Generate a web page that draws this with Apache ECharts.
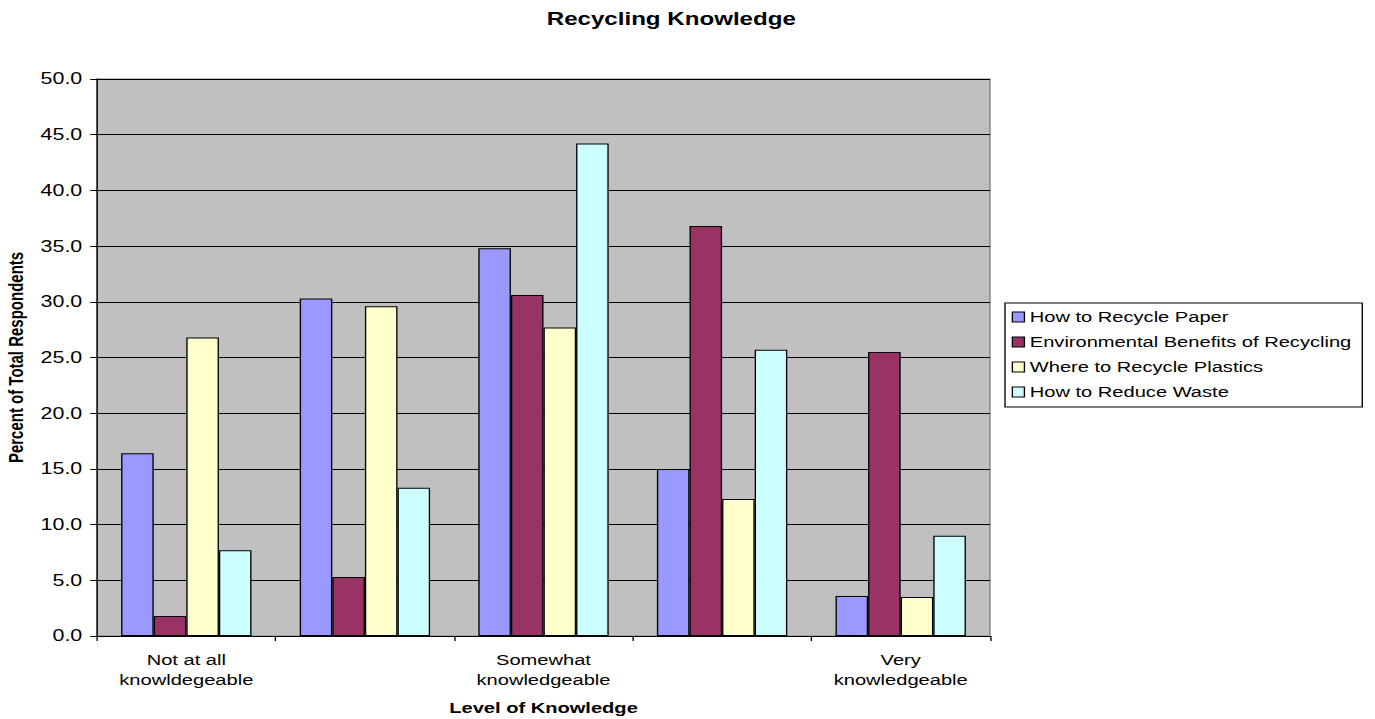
<!DOCTYPE html>
<html>
<head>
<meta charset="utf-8">
<title>Recycling Knowledge</title>
<script src="https://cdn.jsdelivr.net/npm/echarts@6/dist/echarts.min.js"></script>
<style>
  html, body { margin: 0; padding: 0; background: #fff; overflow: hidden; }
  #wrap { width: 1375px; height: 719px; overflow: hidden; }
  /* the chart is laid out narrow and widened, which gives the broad lettering */
  #chart { height: 719px; transform-origin: 0 0; }
</style>
</head>
<body>
<div id="wrap"><div id="chart"></div></div>
<script>
// Share of respondents (%) at each level of knowledge, per topic
const levels = ['Not at all\nknowldegeable', '', 'Somewhat\nknowledgeable', '', 'Very\nknowledgeable'];
const seriesNames = ['How to Recycle Paper', 'Environmental Benefits of Recycling', 'Where to Recycle Plastics', 'How to Reduce Waste'];
const recyclePaper   = [16.4, 30.3, 34.8, 15.0, 3.6];
const envBenefits    = [1.8, 5.3, 30.6, 36.8, 25.5];
const recyclePlastic = [26.8, 29.6, 27.7, 12.3, 3.5];
const reduceWaste    = [7.7, 13.3, 44.2, 25.7, 9.0];
const yTicks = [0, 5, 10, 15, 20, 25, 30, 35, 40, 45, 50];

const STRETCH = 1.34;
const W = 1375 / STRETCH;
const el = document.getElementById('chart');
el.style.width = W + 'px';
el.style.transform = 'scaleX(' + STRETCH + ')';

const font = '"Liberation Sans", Arial, Helvetica, sans-serif';
const colors = ['#9999FF', '#993366', '#FFFFCC', '#CCFFFF'];
const values = [recyclePaper, envBenefits, recyclePlastic, reduceWaste];

const chart = echarts.init(el, null, { renderer: 'svg', width: W, height: 719 });
chart.setOption({
  animation: false,
  color: colors,
  textStyle: { fontFamily: font },
  title: {
    text: 'Recycling Knowledge',
    left: 408,
    top: 10,
    padding: 0,
    textStyle: { fontFamily: font, fontSize: 18, fontWeight: 'bold', color: '#000' }
  },
  legend: {
    orient: 'vertical',
    left: 750,
    top: 303,
    width: 270,
    padding: [6, 8, 7, 5],
    itemGap: 9,
    itemWidth: 9,
    itemHeight: 10,
    borderColor: '#000',
    borderWidth: 1,
    backgroundColor: '#fff',
    icon: 'rect',
    itemStyle: { borderColor: '#000', borderWidth: 1 },
    textStyle: { fontFamily: font, fontSize: 15, color: '#000', lineHeight: 16, padding: [0, 0, 0, -1] },
    data: seriesNames
  },
  grid: {
    left: 72.4,
    right: W - 738.8,
    top: 79,
    bottom: 83,
    containLabel: false,
    outerBoundsMode: 'none',
    show: true,
    backgroundColor: '#C0C0C0',
    borderColor: '#808080',
    borderWidth: 1
  },
  xAxis: {
    type: 'category',
    data: levels,
    name: 'Level of Knowledge',
    nameLocation: 'middle',
    nameGap: 64,
    nameTextStyle: { fontFamily: font, fontSize: 15, fontWeight: 'bold', color: '#000' },
    axisLine: { lineStyle: { color: '#000', width: 1 } },
    axisTick: { show: true, interval: 0, length: 5, lineStyle: { color: '#000' } },
    axisLabel: { interval: 0, margin: 14, fontFamily: font, fontSize: 15, lineHeight: 20, color: '#000' },
    splitLine: { show: false }
  },
  yAxis: {
    type: 'value',
    min: yTicks[0],
    max: yTicks[yTicks.length - 1],
    interval: yTicks[1] - yTicks[0],
    name: 'Percent of Total Respondents',
    nameLocation: 'middle',
    nameGap: 50,
    nameRotate: 90,
    nameTextStyle: { fontFamily: font, fontSize: 15, fontWeight: 'bold', color: '#000' },
    axisLine: { show: true, lineStyle: { color: '#000', width: 1 } },
    axisTick: { show: true, length: 5, lineStyle: { color: '#000' } },
    axisLabel: { margin: 11, fontFamily: font, fontSize: 16, color: '#000', formatter: v => v.toFixed(1) },
    splitLine: { show: true, lineStyle: { color: '#000', width: 1 } }
  },
  series: seriesNames.map((name, i) => ({
    name: name,
    type: 'bar',
    data: values[i],
    barGap: '0%',
    barCategoryGap: '27%',
    itemStyle: { color: colors[i], borderColor: '#000', borderWidth: 1 }
  }))
});
</script>
</body>
</html>
